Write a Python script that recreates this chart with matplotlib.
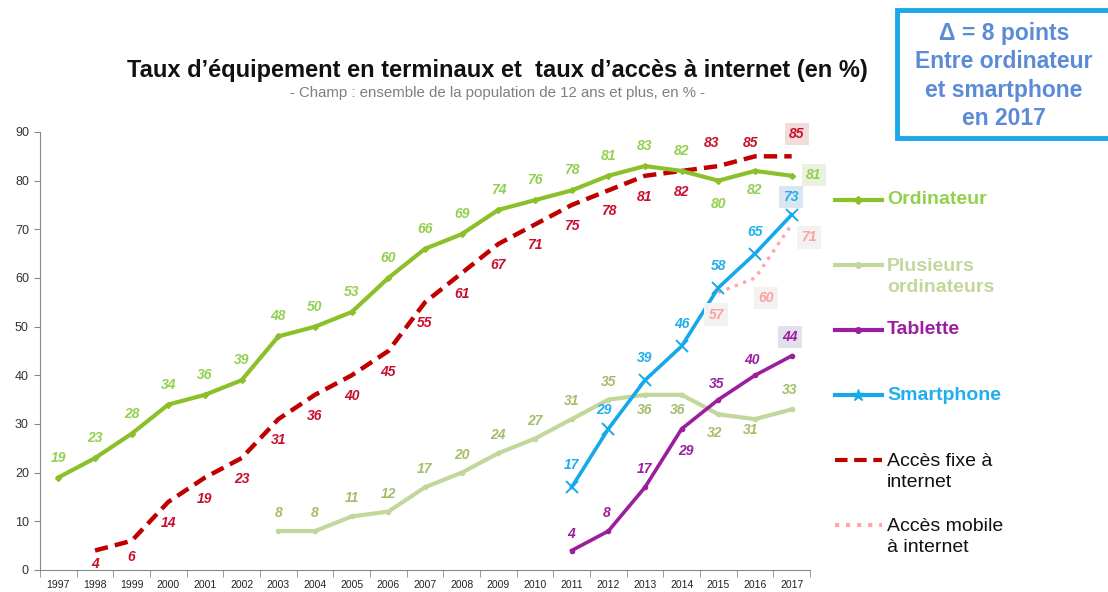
import matplotlib
matplotlib.use('Agg')
import matplotlib.pyplot as plt
from matplotlib.patches import Rectangle

plt.rcParams['font.family'] = ['Liberation Sans', 'DejaVu Sans']

# data
ordi_years = list(range(1997, 2018))
ordinateur = [19, 23, 28, 34, 36, 39, 48, 50, 53, 60, 66, 69, 74, 76, 78, 81, 83, 82, 80, 82, 81]
fixe_years = list(range(1998, 2018))
acces_fixe = [4, 6, 14, 19, 23, 31, 36, 40, 45, 55, 61, 67, 71, 75, 78, 81, 82, 83, 85, 85]
plus_years = list(range(2003, 2018))
plusieurs = [8, 8, 11, 12, 17, 20, 24, 27, 31, 35, 36, 36, 32, 31, 33]
tab_years = list(range(2011, 2018))
tablette = [4, 8, 17, 29, 35, 40, 44]
smart_years = list(range(2011, 2018))
smartphone = [17, 29, 39, 46, 58, 65, 73]
mobile_years = [2015, 2016, 2017]
acces_mobile = [57, 60, 71]

title = "Taux d\u2019équipement en terminaux et  taux d\u2019accès à internet (en %)"
subtitle = "- Champ : ensemble de la population de 12 ans et plus, en % -"
note = "\u0394 = 8 points\nEntre ordinateur\net smartphone\nen 2017"

fig = plt.figure(figsize=(11.08, 5.92), dpi=100)
ax = fig.add_axes([40 / 1108, 22 / 592, 770 / 1108, 438 / 592])

# lines
ax.plot(plus_years, plusieurs, color='#C3D69B', lw=3, marker='o', ms=3, zorder=3)
ax.plot(fixe_years, acces_fixe, color='#C00000', lw=3.2, ls=(0, (3, 1.6)), zorder=4)
ax.plot(ordi_years, ordinateur, color='#8CC02A', lw=3, marker='D', ms=3, zorder=5)
ax.plot(tab_years, tablette, color='#9A1E9E', lw=2.6, marker='o', ms=3, zorder=5)
ax.plot(mobile_years, acces_mobile, color='#FFA6A6', lw=2.4, ls=':', zorder=4)
ax.plot(smart_years, smartphone, color='#16A9EA', lw=2.6, marker='x', ms=9, mew=1.4, zorder=6)


def put_labels(xs, ys, color, offsets, default, boxes=None):
    boxes = boxes or {}
    for x, y in zip(xs, ys):
        dx, dy = offsets.get(x, default)
        bb = None
        if x in boxes:
            bb = dict(boxstyle='square,pad=0.3', fc=boxes[x], ec='none')
        ax.annotate(str(y), (x, y), xytext=(dx, dy), textcoords='offset pixels',
                    ha='center', va='center', fontsize=10, fontweight='bold',
                    fontstyle='italic', color=color, bbox=bb, zorder=10)


put_labels(ordi_years, ordinateur, '#92D050',
           {2015: (0, -23), 2016: (0, -19), 2017: (22, 1)}, (0, 20),
           {2017: '#EBF1DE'})
put_labels(fixe_years, acces_fixe, '#C8102E',
           {1998: (0, -13), 1999: (0, -16), 2015: (-7, 23), 2016: (-4, 13), 2017: (5, 22)},
           (0, -21), {2017: '#F2DCDB'})
put_labels(plus_years, plusieurs, '#A4BE6A',
           {2013: (0, -15), 2014: (-4, -15), 2015: (-4, -19), 2016: (-4, -11), 2017: (-2, 19)},
           (0, 18))
put_labels(tab_years, tablette, '#9B1FA0',
           {2011: (-1, 17), 2012: (-2, 18), 2014: (4, -22), 2015: (-2, 16), 2016: (-3, 15),
            2017: (-2, 19)}, (0, 18), {2017: '#E4DFEC'})
put_labels(smart_years, smartphone, '#1FAEEF',
           {2012: (-4, 19), 2017: (-1, 18)}, (0, 22), {2017: '#DAE5F1'})
put_labels(mobile_years, acces_mobile, '#FF9F9F',
           {2015: (-2, -22), 2016: (11, -20), 2017: (17, -13)}, (0, -20),
           {2015: '#F2F2F2', 2016: '#F2F2F2', 2017: '#F2F2F2'})

# axes styling
ax.set_xlim(1996.5, 2017.5)
ax.set_ylim(0, 90)
ax.set_yticks(range(0, 91, 10))
ax.set_xticks(ordi_years)
ax.set_xticks([y - 0.5 for y in ordi_years] + [2017.5], minor=True)
ax.tick_params(axis='x', which='major', length=0, labelsize=7.5, pad=7, labelcolor='#222222')
ax.tick_params(axis='x', which='minor', length=5, color='#888888')
ax.tick_params(axis='y', length=4, color='#888888', labelsize=9, labelcolor='#333333', pad=4)
for s in ['top', 'right']:
    ax.spines[s].set_visible(False)
for s in ['left', 'bottom']:
    ax.spines[s].set_color('#888888')
ax.patch.set_alpha(0)

# overlay in pixel coords for title, legend, note box
lax = fig.add_axes([0, 0, 1, 1])
lax.set_xlim(0, 1108)
lax.set_ylim(592, 0)
lax.axis('off')

lax.text(497, 70, title, ha='center', va='center', fontsize=17, fontweight='bold', color='#111111')
lax.text(497, 93, subtitle, ha='center', va='center', fontsize=10.8, color='#7F7F7F')

lax.add_patch(Rectangle((897, 10), 220, 128, fc='white', ec='#1BA7EA', lw=3.5, clip_on=False))
lax.text(1004, 76, note, ha='center', va='center', fontsize=16.5, fontweight='bold',
         color='#5B8BD6', linespacing=1.3)

legend_items = [
    ('Ordinateur', '#8CC02A', '-', 'D', 200, 200, '#92D050', 'bold'),
    ('Plusieurs\nordinateurs', '#C3D69B', '-', 'o', 265, 277, '#C3D69B', 'bold'),
    ('Tablette', '#9A1E9E', '-', 'o', 330, 330, '#9B1FA0', 'bold'),
    ('Smartphone', '#16A9EA', '-', '*', 395, 395, '#1FAEEF', 'bold'),
    ('Accès fixe à\ninternet', '#C00000', (0, (3, 1.6)), None, 460, 472, '#111111', 'normal'),
    ('Accès mobile\nà internet', '#FFA6A6', ':', None, 525, 537, '#111111', 'normal'),
]
for text, col, ls, mk, ly, ty, tcol, wt in legend_items:
    lax.plot([835, 882], [ly, ly], color=col, ls=ls, lw=3)
    if mk:
        lax.plot([858], [ly], color=col, marker=mk, ms=4 if mk != '*' else 9)
    lax.text(887, ty, text, ha='left', va='center', fontsize=14, fontweight=wt,
             color=tcol, linespacing=1.3)

fig.savefig('out.png', dpi=100)
